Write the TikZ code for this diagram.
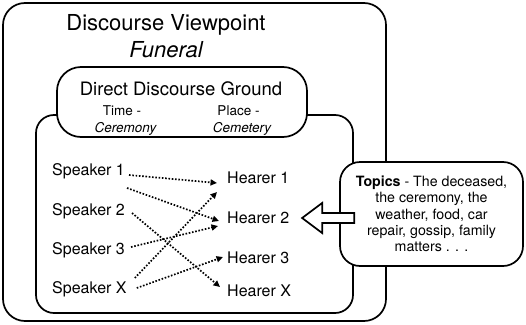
\documentclass[tikz,border=0pt]{standalone}
\usepackage{fontspec}
\setmainfont{TeX Gyre Heros}
\usepackage{tikz}
\usetikzlibrary{arrows.meta,calc,positioning}
\newcommand{\fs}[1]{\fontsize{#1}{#1}\selectfont}

\begin{document}
\begin{tikzpicture}[x=1pt,y=-1pt,
  box/.style={draw,line width=1.7pt,rounded corners=#1,inner sep=0pt},
  box/.default=20pt,
  who/.style={font=\fs{16},inner sep=0pt,anchor=base west},
  talk/.style={line width=1.7pt,dash pattern=on 1.6pt off 1.7pt,-{Triangle[length=6.5pt,width=6pt]}}]
  \useasboundingbox (0,0) rectangle (526,324);
  % frames
  \node[box=22pt,minimum width=383pt,minimum height=318pt] (viewpoint) at (194.5,162) {};
  \node[box=18pt,minimum width=317pt,minimum height=198pt] (scene) at (194.5,214) {};
  \node[box=24pt,fill=white,minimum width=250pt,minimum height=70pt] (ground) at (182,102) {};
  \node[box=20pt,fill=white,minimum width=183pt,minimum height=104pt,align=center,
        font=\fontsize{14.2}{16.25}\selectfont] (topics) at (431.5,214)
    {\textbf{Topics} - The deceased,\\ the ceremony, the\\ weather, food, car\\ repair, gossip, family\\ matters . . .};
  % hollow arrow from the topics
  \draw[line width=1.7pt,fill=white,line join=miter] ([shift={(-37,4)}]topics.west) coordinate (tip)
    -- ++(20,-15) -- ++(0,10) -- ++(32,0) -- ++(0,10) -- ++(-32,0) -- ++(0,10) -- cycle;
  % titles
  \node[font=\fs{22},inner sep=0pt,anchor=base] (title) at (166,30) {Discourse Viewpoint};
  \node[font=\fs{22}\itshape,inner sep=0pt,anchor=base] (frame) at (166,57) {Funeral};
  \node[font=\fs{18.5},inner sep=0pt,anchor=base] (groundtitle) at (181,95) {Direct Discourse Ground};
  \node[font=\fs{13.5},inner sep=0pt,anchor=base] (time) at (122,115) {Time -};
  \node[font=\fs{13.5}\itshape,inner sep=0pt,anchor=base] (timeval) at (125.5,132) {Ceremony};
  \node[font=\fs{13.5},inner sep=0pt,anchor=base] (place) at (238.5,115) {Place -};
  \node[font=\fs{13.5}\itshape,inner sep=0pt,anchor=base] (placeval) at (242,132) {Cemetery};
  % speakers and hearers
  \foreach \n/\t/\y in {1/1/175,2/2/215,3/3/254,x/X/293} \node[who] (s\n) at (52,\y) {Speaker \t};
  \foreach \n/\t/\y in {1/1/183,2/2/223,3/3/263,x/X/296} \node[who] (h\n) at (227,\y) {Hearer \t};
  \foreach \a/\sa/\b/\sb in {1/{4,0}/1/{-10,0}, 1/{2,13}/2/{-8,-2}, 2/{7,-2}/x/{-7,-9},
      3/{6,-7}/2/{-9,3}, x/{8,-15}/1/{-10,9}, x/{10,-5}/3/{-4,-6}}
    \draw[talk] ([shift={(\sa)}]s\a.base east) -- ([shift={(\sb)}]h\b.base west);
\end{tikzpicture}
\end{document}
